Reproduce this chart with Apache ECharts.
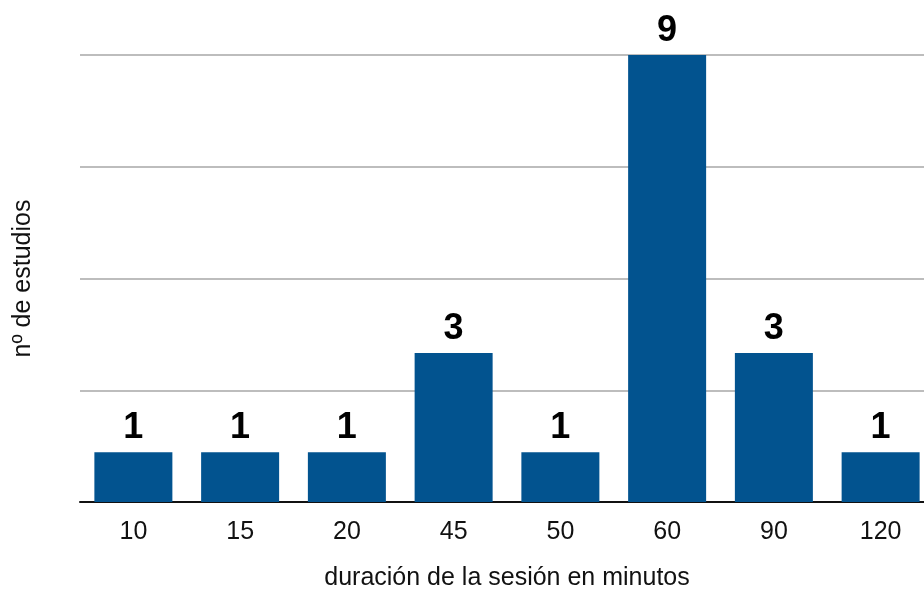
<!DOCTYPE html>
<html>
<head>
<meta charset="utf-8">
<script src="https://cdn.jsdelivr.net/npm/echarts@6/dist/echarts.min.js"></script>
<style>
  html, body { margin: 0; padding: 0; background: #fff; }
  #chart { width: 924px; height: 591px; }
</style>
</head>
<body>
<div id="chart"></div>
<script>
// duración de la sesión (minutos) y nº de estudios
const categories = ['10', '15', '20', '45', '50', '60', '90', '120'];
const estudios = [1, 1, 1, 3, 1, 9, 3, 1];

const chart = echarts.init(document.getElementById('chart'));
const font = '"Liberation Sans", Arial, Helvetica, sans-serif';

chart.setOption({
    animation: false,
    grid: {
        left: 80,
        top: 55,
        bottom: 89,
        width: 854,
        containLabel: false,
        outerBoundsMode: 'none'
    },
    xAxis: {
        type: 'category',
        data: categories,
        name: 'duración de la sesión en minutos',
        nameLocation: 'middle',
        nameGap: 64,
        nameTextStyle: { fontSize: 25, color: '#111', fontFamily: font },
        axisLine: { lineStyle: { color: '#111', width: 2 } },
        axisTick: { show: false },
        axisLabel: { fontSize: 25, color: '#111', fontFamily: font, margin: 18 }
    },
    yAxis: {
        type: 'value',
        min: 0,
        max: 9,
        interval: 2.25,
        name: 'nº de estudios',
        nameLocation: 'middle',
        nameGap: 44,
        nameTextStyle: { fontSize: 25, color: '#111', fontFamily: font },
        axisLine: { show: false },
        axisTick: { show: false },
        axisLabel: { show: false },
        splitLine: { lineStyle: { color: '#bdbdbd', width: 2 } }
    },
    series: [{
        type: 'bar',
        data: estudios,
        barWidth: 78,
        itemStyle: { color: '#02538f' },
        label: {
            show: true,
            position: 'top',
            distance: 6,
            fontSize: 36,
            fontWeight: 'bold',
            color: '#000',
            fontFamily: font
        }
    }]
});
</script>
</body>
</html>
